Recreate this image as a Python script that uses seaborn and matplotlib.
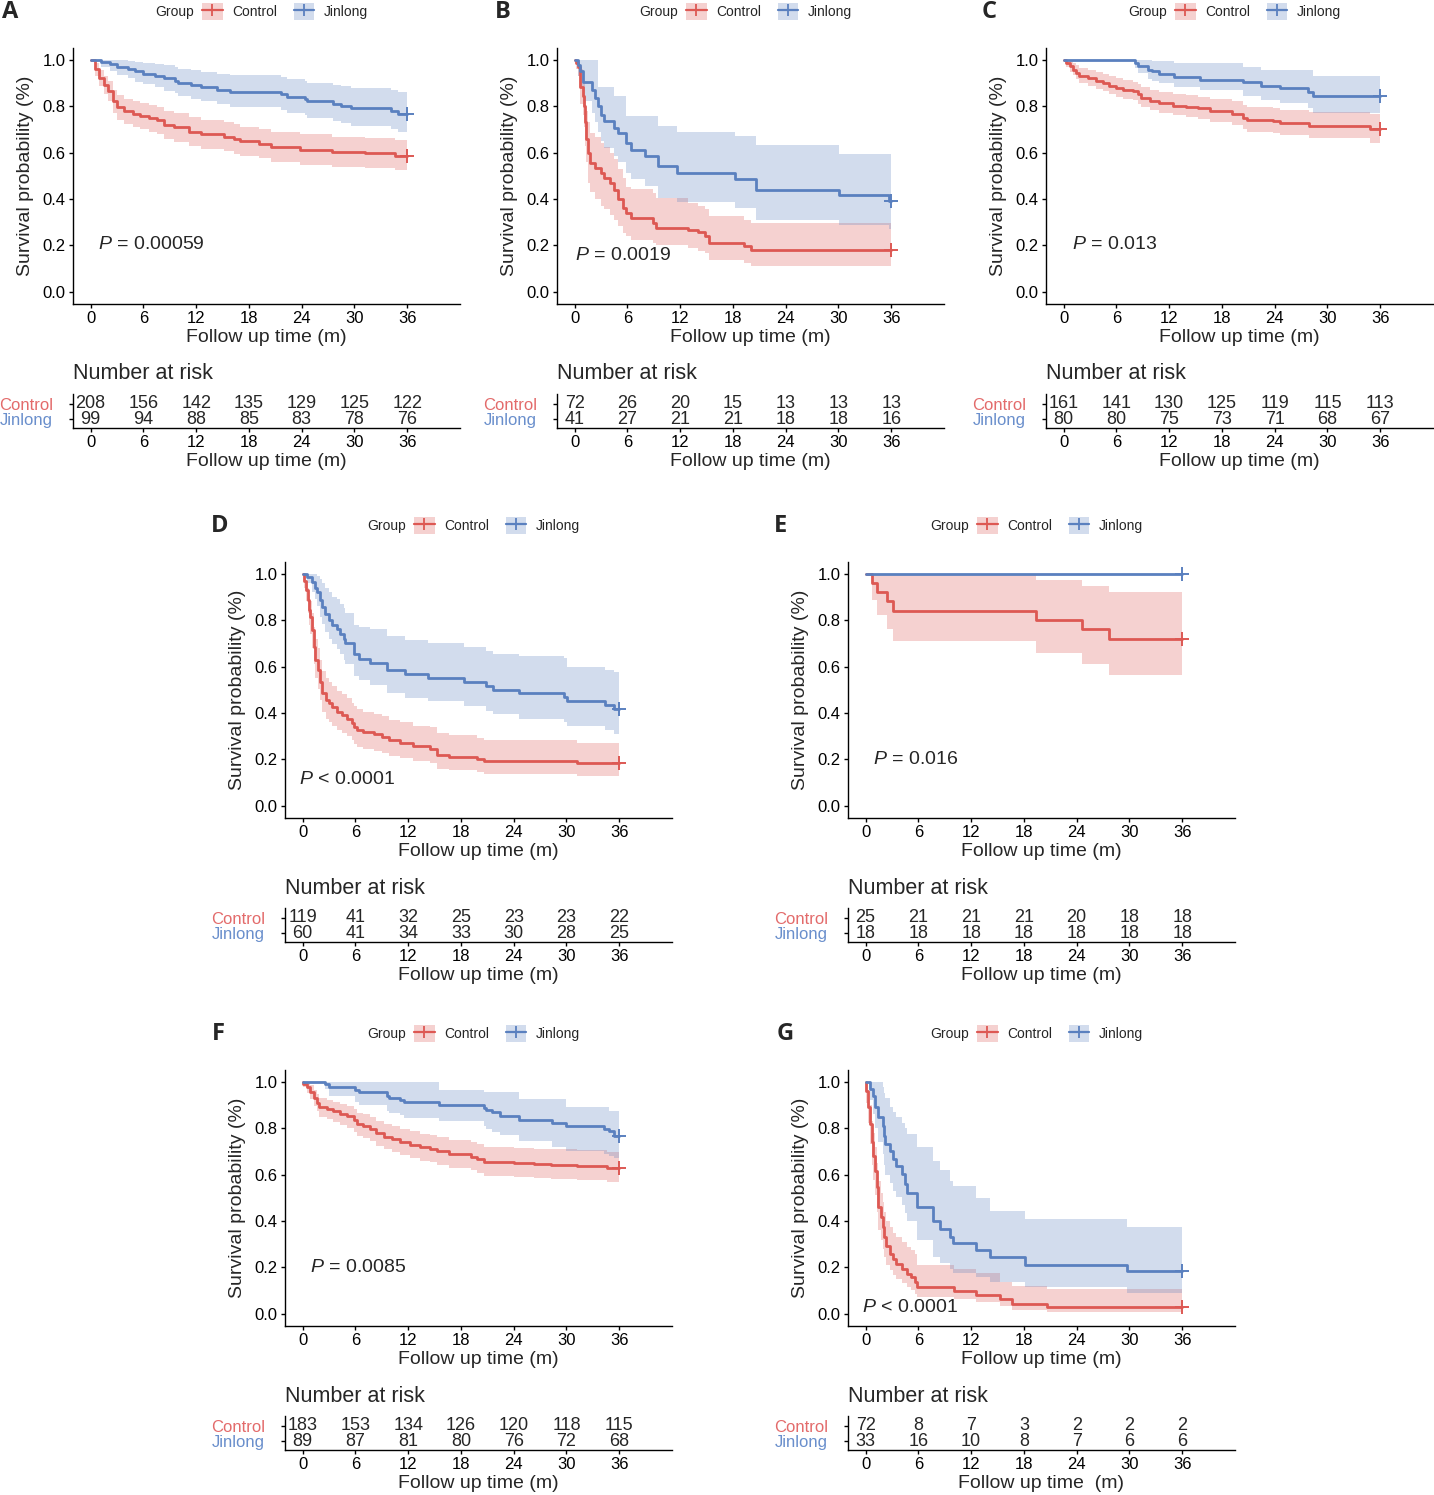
import matplotlib
matplotlib.use("Agg")
import matplotlib.pyplot as plt
from matplotlib.patches import Patch
from matplotlib.lines import Line2D
import pandas as pd
import seaborn as sns

# ---------------- data ----------------
END_TIME = 36
XTICKS = [0, 6, 12, 18, 24, 30, 36]
YTICKS = [0.0, 0.2, 0.4, 0.6, 0.8, 1.0]
GROUPS = ["Control", "Jinlong"]

# Panel A
A_CTRL_T = [0, 0.5, 1.0, 1.5, 2.0, 2.5, 3.0, 3.8, 4.8, 5.6, 6.6, 7.6, 8.4, 9.5, 11.2, 12.6, 15.2, 16.3, 17.0, 19.2, 20.5, 23.8, 27.5, 31.2, 34.6]
A_CTRL_S = [1.0, 0.96, 0.92, 0.89, 0.865, 0.82, 0.795, 0.778, 0.768, 0.758, 0.748, 0.738, 0.72, 0.708, 0.69, 0.678, 0.668, 0.658, 0.648, 0.638, 0.624, 0.612, 0.602, 0.597, 0.587]
A_CTRL_LO = [1.0, 0.93, 0.885, 0.85, 0.82, 0.77, 0.74, 0.722, 0.712, 0.702, 0.69, 0.68, 0.66, 0.647, 0.628, 0.615, 0.605, 0.595, 0.585, 0.575, 0.56, 0.548, 0.538, 0.532, 0.525]
A_CTRL_HI = [1.0, 0.985, 0.955, 0.93, 0.91, 0.87, 0.848, 0.832, 0.822, 0.815, 0.806, 0.797, 0.78, 0.77, 0.752, 0.742, 0.732, 0.722, 0.712, 0.703, 0.69, 0.678, 0.668, 0.663, 0.655]
A_JIN_T = [0, 1.2, 2.2, 3.0, 4.2, 5.0, 6.0, 7.3, 8.4, 9.6, 9.9, 11.4, 12.5, 14.4, 15.9, 21.6, 22.3, 24.4, 24.6, 27.6, 28.5, 29.6, 34.1, 34.9]
A_JIN_S = [1.0, 0.99, 0.98, 0.97, 0.96, 0.95, 0.94, 0.93, 0.92, 0.91, 0.90, 0.89, 0.88, 0.87, 0.86, 0.85, 0.84, 0.83, 0.82, 0.81, 0.80, 0.79, 0.78, 0.768]
A_JIN_LO = [1.0, 0.97, 0.95, 0.935, 0.92, 0.905, 0.895, 0.88, 0.867, 0.855, 0.843, 0.832, 0.82, 0.808, 0.796, 0.783, 0.772, 0.76, 0.748, 0.737, 0.725, 0.713, 0.70, 0.688]
A_JIN_HI = [1.0, 1.0, 1.0, 1.0, 0.995, 0.99, 0.985, 0.98, 0.975, 0.967, 0.96, 0.954, 0.947, 0.94, 0.935, 0.926, 0.918, 0.909, 0.90, 0.892, 0.885, 0.877, 0.87, 0.862]
A_RISK_CTRL = [208, 156, 142, 135, 129, 125, 122]
A_RISK_JIN = [99, 94, 88, 85, 83, 78, 76]

# Panel B
B_CTRL_T = [0, 0.2, 0.4, 0.57, 0.65, 0.95, 1.1, 1.2, 1.3, 1.5, 1.8, 2.3, 3.0, 3.4, 4.0, 4.5, 4.9, 5.5, 5.9, 6.4, 8.9, 9.3, 12.9, 14.0, 14.8, 15.3, 19.3, 20.1]
B_CTRL_S = [1.0, 0.986, 0.97, 0.95, 0.88, 0.842, 0.80, 0.73, 0.66, 0.60, 0.555, 0.533, 0.51, 0.49, 0.47, 0.44, 0.40, 0.36, 0.34, 0.318, 0.297, 0.277, 0.268, 0.257, 0.24, 0.211, 0.197, 0.182]
B_CTRL_LO = [1.0, 0.96, 0.93, 0.90, 0.81, 0.76, 0.71, 0.63, 0.56, 0.47, 0.43, 0.40, 0.37, 0.355, 0.33, 0.31, 0.285, 0.255, 0.24, 0.225, 0.21, 0.204, 0.19, 0.175, 0.168, 0.139, 0.125, 0.11]
B_CTRL_HI = [1.0, 1.0, 1.0, 1.0, 0.96, 0.93, 0.90, 0.84, 0.78, 0.73, 0.685, 0.665, 0.64, 0.625, 0.60, 0.57, 0.53, 0.49, 0.45, 0.445, 0.425, 0.405, 0.383, 0.37, 0.355, 0.326, 0.31, 0.297]
B_JIN_T = [0, 0.4, 0.6, 0.9, 2.0, 2.3, 2.65, 3.0, 3.4, 4.5, 4.9, 5.9, 6.4, 8.0, 9.5, 11.7, 18.2, 20.6, 30.1, 35.7]
B_JIN_S = [1.0, 0.976, 0.951, 0.902, 0.87, 0.835, 0.80, 0.763, 0.735, 0.705, 0.683, 0.64, 0.613, 0.585, 0.54, 0.512, 0.484, 0.44, 0.415, 0.39]
B_JIN_LO = [1.0, 0.93, 0.88, 0.82, 0.77, 0.73, 0.69, 0.65, 0.62, 0.585, 0.56, 0.51, 0.485, 0.455, 0.405, 0.385, 0.36, 0.31, 0.29, 0.27]
B_JIN_HI = [1.0, 1.0, 1.0, 1.0, 1.0, 1.0, 0.882, 0.882, 0.882, 0.842, 0.842, 0.756, 0.756, 0.756, 0.713, 0.69, 0.67, 0.634, 0.595, 0.595]
B_RISK_CTRL = [72, 26, 20, 15, 13, 13, 13]
B_RISK_JIN = [41, 27, 21, 21, 18, 18, 16]

# Panel C
C_CTRL_T = [0, 0.3, 0.7, 1.06, 1.4, 1.8, 2.8, 3.7, 4.5, 5.2, 6.0, 6.7, 7.9, 8.5, 8.8, 9.8, 10.9, 12.4, 13.9, 15.3, 16.6, 19.2, 20.4, 20.8, 23.8, 24.6, 27.9, 34.8]
C_CTRL_S = [1.0, 0.986, 0.971, 0.957, 0.943, 0.93, 0.92, 0.91, 0.90, 0.888, 0.878, 0.87, 0.864, 0.85, 0.835, 0.823, 0.813, 0.802, 0.796, 0.79, 0.778, 0.766, 0.749, 0.739, 0.735, 0.725, 0.713, 0.70]
C_CTRL_LO = [1.0, 0.97, 0.948, 0.932, 0.915, 0.9, 0.888, 0.875, 0.864, 0.852, 0.84, 0.832, 0.825, 0.81, 0.795, 0.782, 0.772, 0.76, 0.752, 0.745, 0.732, 0.718, 0.70, 0.69, 0.685, 0.675, 0.662, 0.642]
C_CTRL_HI = [1.0, 1.0, 0.995, 0.985, 0.975, 0.965, 0.957, 0.948, 0.94, 0.93, 0.92, 0.912, 0.905, 0.893, 0.88, 0.87, 0.862, 0.852, 0.846, 0.84, 0.83, 0.82, 0.805, 0.797, 0.793, 0.785, 0.775, 0.767]
C_JIN_T = [0, 8.1, 8.45, 9.6, 10.0, 10.9, 12.6, 15.5, 20.4, 22.5, 24.6, 27.8, 28.3]
C_JIN_S = [1.0, 0.986, 0.972, 0.957, 0.95, 0.937, 0.924, 0.914, 0.902, 0.888, 0.876, 0.862, 0.845]
C_JIN_LO = [1.0, 0.964, 0.943, 0.915, 0.907, 0.90, 0.882, 0.87, 0.842, 0.828, 0.813, 0.79, 0.77]
C_JIN_HI = [1.0, 1.0, 1.0, 1.0, 0.993, 0.993, 0.986, 0.986, 0.97, 0.957, 0.957, 0.957, 0.928]
C_RISK_CTRL = [161, 141, 130, 125, 119, 115, 113]
C_RISK_JIN = [80, 80, 75, 73, 71, 68, 67]

# Panel D
D_CTRL_T = [0, 0.2, 0.4, 0.57, 0.7, 0.87, 1.06, 1.25, 1.44, 1.7, 2.0, 2.2, 2.7, 3.0, 3.3, 3.9, 4.5, 5.0, 5.6, 5.8, 6.2, 6.9, 8.1, 9.0, 9.8, 11.1, 12.6, 14.5, 15.3, 16.6, 19.8, 20.6, 31.2]
D_CTRL_S = [1.0, 0.97, 0.928, 0.885, 0.842, 0.813, 0.756, 0.684, 0.627, 0.584, 0.534, 0.484, 0.455, 0.441, 0.424, 0.405, 0.391, 0.376, 0.357, 0.341, 0.326, 0.316, 0.308, 0.297, 0.283, 0.271, 0.256, 0.247, 0.218, 0.211, 0.2, 0.194, 0.185]
D_CTRL_LO = [1.0, 0.94, 0.88, 0.83, 0.78, 0.74, 0.68, 0.61, 0.55, 0.505, 0.455, 0.405, 0.375, 0.362, 0.345, 0.328, 0.315, 0.30, 0.283, 0.268, 0.254, 0.245, 0.238, 0.228, 0.215, 0.205, 0.193, 0.185, 0.16, 0.155, 0.145, 0.139, 0.129]
D_CTRL_HI = [1.0, 1.0, 0.97, 0.94, 0.91, 0.88, 0.83, 0.77, 0.72, 0.68, 0.63, 0.58, 0.55, 0.535, 0.515, 0.495, 0.48, 0.465, 0.445, 0.43, 0.415, 0.405, 0.397, 0.385, 0.37, 0.362, 0.345, 0.34, 0.312, 0.305, 0.292, 0.283, 0.27]
D_JIN_T = [0, 0.5, 1.06, 1.36, 1.6, 2.0, 2.2, 2.6, 3.0, 3.3, 3.9, 4.3, 4.7, 4.85, 5.9, 6.4, 7.7, 9.6, 11.7, 14.3, 18.3, 20.8, 21.6, 24.6, 29.7, 30.1, 34.4, 35.4]
D_JIN_S = [1.0, 0.986, 0.964, 0.94, 0.92, 0.885, 0.857, 0.828, 0.80, 0.778, 0.763, 0.742, 0.72, 0.70, 0.656, 0.634, 0.617, 0.584, 0.567, 0.552, 0.534, 0.516, 0.50, 0.484, 0.47, 0.452, 0.434, 0.417]
D_JIN_LO = [1.0, 0.96, 0.92, 0.89, 0.86, 0.815, 0.785, 0.75, 0.72, 0.695, 0.675, 0.655, 0.63, 0.61, 0.56, 0.54, 0.52, 0.485, 0.465, 0.45, 0.43, 0.41, 0.395, 0.375, 0.36, 0.345, 0.325, 0.31]
D_JIN_HI = [1.0, 1.0, 1.0, 1.0, 0.99, 0.975, 0.96, 0.94, 0.92, 0.90, 0.89, 0.87, 0.85, 0.83, 0.78, 0.77, 0.76, 0.73, 0.713, 0.70, 0.685, 0.665, 0.656, 0.645, 0.635, 0.598, 0.585, 0.577]
D_RISK_CTRL = [119, 41, 32, 25, 23, 23, 22]
D_RISK_JIN = [60, 41, 34, 33, 30, 28, 25]

# Panel E
E_CTRL_T = [0, 0.68, 1.25, 2.4, 3.07, 19.4, 24.6, 27.7]
E_CTRL_S = [1.0, 0.96, 0.92, 0.88, 0.84, 0.80, 0.76, 0.72]
E_CTRL_LO = [1.0, 0.888, 0.82, 0.763, 0.709, 0.659, 0.61, 0.565]
E_CTRL_HI = [1.0, 1.0, 1.0, 1.0, 1.0, 0.971, 0.945, 0.92]
E_JIN_T = [0]
E_JIN_S = [1.0]
E_JIN_LO = [1.0]
E_JIN_HI = [1.0]
E_RISK_CTRL = [25, 21, 21, 21, 20, 18, 18]
E_RISK_JIN = [18, 18, 18, 18, 18, 18, 18]

# Panel F
F_CTRL_T = [0, 0.1, 0.5, 0.87, 1.25, 1.6, 1.9, 2.8, 3.5, 4.3, 5.0, 5.8, 6.2, 6.9, 7.7, 8.4, 9.2, 10.2, 11.1, 12.2, 13.4, 14.5, 15.3, 16.6, 19.1, 19.8, 20.6, 24.0, 26.3, 28.2, 31.2, 34.6]
F_CTRL_S = [1.0, 0.99, 0.976, 0.954, 0.93, 0.91, 0.89, 0.882, 0.872, 0.861, 0.85, 0.835, 0.818, 0.81, 0.796, 0.778, 0.763, 0.753, 0.739, 0.729, 0.717, 0.71, 0.70, 0.689, 0.677, 0.667, 0.653, 0.648, 0.646, 0.643, 0.638, 0.628]
F_CTRL_LO = [1.0, 0.975, 0.953, 0.924, 0.895, 0.872, 0.848, 0.838, 0.826, 0.813, 0.80, 0.785, 0.768, 0.758, 0.744, 0.724, 0.708, 0.697, 0.683, 0.672, 0.66, 0.652, 0.642, 0.63, 0.618, 0.607, 0.593, 0.588, 0.585, 0.582, 0.577, 0.566]
F_CTRL_HI = [1.0, 1.0, 1.0, 0.985, 0.965, 0.948, 0.93, 0.922, 0.913, 0.905, 0.895, 0.88, 0.866, 0.86, 0.846, 0.83, 0.817, 0.808, 0.795, 0.786, 0.775, 0.77, 0.76, 0.75, 0.74, 0.73, 0.718, 0.713, 0.711, 0.709, 0.705, 0.698]
F_JIN_T = [0, 2.5, 3.0, 6.0, 6.4, 9.6, 9.8, 11.1, 11.5, 15.5, 20.6, 20.9, 21.5, 22.5, 24.6, 28.3, 30.0, 34.3, 34.8, 35.4]
F_JIN_S = [1.0, 0.99, 0.978, 0.964, 0.954, 0.94, 0.93, 0.921, 0.911, 0.90, 0.887, 0.878, 0.868, 0.854, 0.836, 0.82, 0.808, 0.796, 0.786, 0.768]
F_JIN_LO = [1.0, 0.968, 0.94, 0.912, 0.90, 0.875, 0.865, 0.855, 0.845, 0.83, 0.81, 0.795, 0.785, 0.77, 0.745, 0.72, 0.70, 0.69, 0.68, 0.67]
F_JIN_HI = [1.0, 1.0, 1.0, 1.0, 1.0, 0.997, 0.997, 0.997, 0.997, 0.966, 0.954, 0.954, 0.954, 0.954, 0.925, 0.925, 0.89, 0.89, 0.875, 0.875]
F_RISK_CTRL = [183, 153, 134, 126, 120, 118, 115]
F_RISK_JIN = [89, 87, 81, 80, 76, 72, 68]

# Panel G
G_CTRL_T = [0, 0.1, 0.3, 0.5, 0.68, 0.87, 1.06, 1.25, 1.44, 1.7, 1.93, 2.08, 2.3, 2.77, 3.15, 3.5, 4.1, 4.7, 5.2, 5.6, 5.8, 10.0, 12.6, 15.3, 16.6, 20.6]
G_CTRL_S = [1.0, 0.96, 0.89, 0.818, 0.74, 0.68, 0.617, 0.545, 0.46, 0.416, 0.373, 0.33, 0.294, 0.258, 0.237, 0.215, 0.194, 0.172, 0.158, 0.136, 0.115, 0.10, 0.082, 0.062, 0.043, 0.029]
G_CTRL_LO = [1.0, 0.91, 0.82, 0.73, 0.64, 0.575, 0.51, 0.44, 0.36, 0.32, 0.28, 0.244, 0.21, 0.187, 0.168, 0.15, 0.132, 0.115, 0.103, 0.085, 0.072, 0.065, 0.05, 0.036, 0.017, 0.007]
G_CTRL_HI = [1.0, 1.0, 0.96, 0.90, 0.83, 0.78, 0.72, 0.65, 0.57, 0.52, 0.48, 0.44, 0.40, 0.373, 0.35, 0.33, 0.31, 0.29, 0.275, 0.258, 0.212, 0.194, 0.175, 0.136, 0.122, 0.108]
G_JIN_T = [0, 0.5, 0.87, 1.06, 1.44, 2.0, 2.1, 2.2, 2.77, 3.15, 3.5, 4.1, 4.5, 4.66, 5.8, 7.7, 8.45, 9.6, 9.9, 12.6, 14.1, 18.1, 29.7]
G_JIN_S = [1.0, 0.97, 0.939, 0.89, 0.848, 0.81, 0.768, 0.73, 0.70, 0.667, 0.638, 0.603, 0.56, 0.519, 0.459, 0.402, 0.366, 0.33, 0.306, 0.273, 0.244, 0.211, 0.183]
G_JIN_LO = [1.0, 0.92, 0.86, 0.80, 0.74, 0.69, 0.64, 0.60, 0.565, 0.53, 0.502, 0.47, 0.435, 0.40, 0.316, 0.244, 0.22, 0.194, 0.175, 0.158, 0.136, 0.115, 0.089]
G_JIN_HI = [1.0, 1.0, 1.0, 1.0, 1.0, 0.976, 0.95, 0.93, 0.89, 0.87, 0.846, 0.82, 0.80, 0.775, 0.717, 0.66, 0.62, 0.574, 0.55, 0.50, 0.445, 0.409, 0.376]
G_RISK_CTRL = [72, 8, 7, 3, 2, 2, 2]
G_RISK_JIN = [33, 16, 10, 8, 7, 6, 6]

P_TEXTS = {"A": "= 0.00059", "B": "= 0.0019", "C": "= 0.013", "D": "< 0.0001",
           "E": "= 0.016", "F": "= 0.0085", "G": "< 0.0001"}

# ---------------- style ----------------
sns.set_theme(style="ticks")
plt.rcParams["font.family"] = ["Liberation Sans", "DejaVu Sans"]
plt.rcParams["mathtext.fontset"] = "custom"
plt.rcParams["mathtext.it"] = "Liberation Sans:italic"
plt.rcParams["mathtext.rm"] = "Liberation Sans"

RED = "#DD5853"
BLUE = "#5A80BF"
RED_TXT = "#E36B6B"
BLUE_TXT = "#6A8FCC"
FILL_ALPHA = 0.27

W, H = 1434, 1495
fig = plt.figure(figsize=(W / 100, H / 100), dpi=100)


def fx(x):
    return x / W


def fy(y):
    return 1 - y / H


def add_ax(left, top, width, height):
    return fig.add_axes([left / W, 1 - (top + height) / H, width / W, height / H])


# layout (pixels): panel -> (axes left, axes top, letter x, p-text x (data), p-text y (data))
LAYOUT = {
    "A": (73, 48, 10, 0.8, 0.205),
    "B": (557, 48, 503, 0.1, 0.155),
    "C": (1046, 48, 989, 0.9, 0.205),
    "D": (285, 562, 220, -0.45, 0.112),
    "E": (848, 562, 780, 0.8, 0.198),
    "F": (285, 1070, 218, 0.8, 0.198),
    "G": (848, 1070, 785, -0.45, 0.028),
}
MAIN_W, MAIN_H = 387, 255.5
TABLE_OFF, TABLE_H = 346.0, 33.8

DATA = {
    "A": ((A_CTRL_T, A_CTRL_S, A_CTRL_LO, A_CTRL_HI), (A_JIN_T, A_JIN_S, A_JIN_LO, A_JIN_HI), A_RISK_CTRL, A_RISK_JIN),
    "B": ((B_CTRL_T, B_CTRL_S, B_CTRL_LO, B_CTRL_HI), (B_JIN_T, B_JIN_S, B_JIN_LO, B_JIN_HI), B_RISK_CTRL, B_RISK_JIN),
    "C": ((C_CTRL_T, C_CTRL_S, C_CTRL_LO, C_CTRL_HI), (C_JIN_T, C_JIN_S, C_JIN_LO, C_JIN_HI), C_RISK_CTRL, C_RISK_JIN),
    "D": ((D_CTRL_T, D_CTRL_S, D_CTRL_LO, D_CTRL_HI), (D_JIN_T, D_JIN_S, D_JIN_LO, D_JIN_HI), D_RISK_CTRL, D_RISK_JIN),
    "E": ((E_CTRL_T, E_CTRL_S, E_CTRL_LO, E_CTRL_HI), (E_JIN_T, E_JIN_S, E_JIN_LO, E_JIN_HI), E_RISK_CTRL, E_RISK_JIN),
    "F": ((F_CTRL_T, F_CTRL_S, F_CTRL_LO, F_CTRL_HI), (F_JIN_T, F_JIN_S, F_JIN_LO, F_JIN_HI), F_RISK_CTRL, F_RISK_JIN),
    "G": ((G_CTRL_T, G_CTRL_S, G_CTRL_LO, G_CTRL_HI), (G_JIN_T, G_JIN_S, G_JIN_LO, G_JIN_HI), G_RISK_CTRL, G_RISK_JIN),
}


def style_axis(ax):
    for sp in ("top", "right"):
        ax.spines[sp].set_visible(False)
    for sp in ("left", "bottom"):
        ax.spines[sp].set_color("black")
        ax.spines[sp].set_linewidth(1.0)
    ax.tick_params(axis="both", length=3.2, width=1.0, color="black",
                   labelcolor="black", labelsize=12, pad=2)


def draw_curve(ax, curve, color):
    t, s, lo, hi = curve
    tt = list(t) + [END_TIME]
    ss = list(s) + [s[-1]]
    ll = list(lo) + [lo[-1]]
    hh = list(hi) + [hi[-1]]
    ax.fill_between(tt, ll, hh, step="post", color=color, alpha=FILL_ALPHA, lw=0)
    df = pd.DataFrame({"time": tt, "surv": ss})
    sns.lineplot(data=df, x="time", y="surv", ax=ax, color=color, lw=2.0,
                 drawstyle="steps-post", estimator=None, sort=False)
    ax.plot([END_TIME], [s[-1]], ls="none", marker="+", ms=10, mew=1.4, color=color)


legend_handles = [
    (Patch(facecolor=RED, alpha=FILL_ALPHA, edgecolor="none"),
     Line2D([], [], color=RED, lw=1.6, marker="+", ms=9, mew=1.3)),
    (Patch(facecolor=BLUE, alpha=FILL_ALPHA, edgecolor="none"),
     Line2D([], [], color=BLUE, lw=1.6, marker="+", ms=9, mew=1.3)),
]

for letter, (left, top, lx, ptx, pty) in LAYOUT.items():
    ctrl, jin, risk_c, risk_j = DATA[letter]

    # ---- survival curves ----
    ax = add_ax(left, top, MAIN_W, MAIN_H)
    draw_curve(ax, ctrl, RED)
    draw_curve(ax, jin, BLUE)
    ax.set_xlim(-2, 42)
    ax.set_ylim(-0.05, 1.05)
    ax.set_xticks(XTICKS)
    ax.set_yticks(YTICKS)
    ax.set_yticklabels([f"{v:.1f}" for v in YTICKS])
    style_axis(ax)
    ax.set_xlabel("Follow up time (m)", fontsize=14, labelpad=2.5)
    ax.set_ylabel("Survival probability (%)", fontsize=14, labelpad=6)
    ax.text(ptx, pty, r"$\mathit{P}$ " + P_TEXTS[letter], fontsize=14,
            ha="left", va="center")

    # ---- legend & panel letter ----
    ly = top - 36.3
    fig.text(fx(left + 82), fy(ly), "Group", fontsize=10, ha="left", va="center")
    fig.legend(legend_handles, GROUPS, loc="center left",
               bbox_to_anchor=(fx(left + 129), fy(ly)), ncol=2, frameon=False,
               fontsize=10, handlelength=1.5, handleheight=1.5, handletextpad=0.65,
               columnspacing=1.2, borderpad=0, borderaxespad=0)
    fig.text(fx(lx), fy(top - 35.5), letter, fontsize=17, fontweight="bold",
             ha="center", va="center", family=["Open Sans", "Liberation Sans"])

    # ---- risk table ----
    ttop = top + TABLE_OFF
    tb = add_ax(left, ttop, MAIN_W, TABLE_H)
    tb.set_xlim(-2, 42)
    tb.set_ylim(0.45, 2.63)
    tb.set_xticks(XTICKS)
    tb.set_yticks([2, 1])
    tb.set_yticklabels(GROUPS)
    style_axis(tb)
    tb.tick_params(axis="y", labelsize=12, pad=11)
    tb.get_yticklabels()[0].set_color(RED_TXT)
    tb.get_yticklabels()[1].set_color(BLUE_TXT)
    for tk, n in zip(XTICKS, risk_c):
        tb.text(tk, 2, str(n), ha="center", va="center", fontsize=13)
    for tk, n in zip(XTICKS, risk_j):
        tb.text(tk, 1, str(n), ha="center", va="center", fontsize=13)
    xl = "Follow up time  (m)" if letter == "G" else "Follow up time (m)"
    tb.set_xlabel(xl, fontsize=14, labelpad=2.5)
    fig.text(fx(left), fy(ttop - 20), "Number at risk", fontsize=15.5,
             ha="left", va="center")

fig.savefig("out.png", dpi=100)
